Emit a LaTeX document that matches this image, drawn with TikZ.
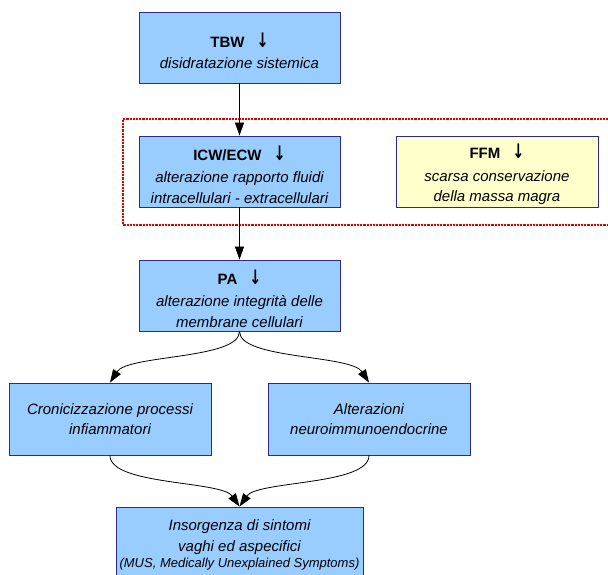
\documentclass[tikz,border=0pt]{standalone}
\usepackage{fontspec}
\setmainfont{Liberation Sans}
\newfontfamily\arrfont{DejaVu Sans}
\usetikzlibrary{arrows.meta}
\definecolor{boxblue}{HTML}{99CCFF}
\definecolor{boxborder}{HTML}{2A2A8E}
\definecolor{boxyellow}{HTML}{FFFFCC}
\definecolor{dotred}{HTML}{E00000}
\newcommand{\darr}{\smash{\scalebox{0.72}[1.0]{\fontsize{20}{20}\selectfont\arrfont\bfseries ↓}}}
\newcommand{\tstrut}{\rule{0pt}{21pt}}
\begin{document}
\begin{tikzpicture}[x=1pt,y=-1pt,
  box/.style={draw=boxborder, fill=boxblue, line width=0.9pt, minimum width=201pt,
    minimum height=71pt, align=center, inner sep=0pt, font=\fontsize{15}{20.5}\selectfont},
  ybox/.style={box, fill=boxyellow},
  txt/.style={align=center, inner sep=0pt, font=\fontsize{15}{20.5}\selectfont},
  arr/.style={line width=0.8pt, -{Triangle[length=13pt,width=9pt]}},
  frame/.style={draw=dotred, line width=1.6pt, dash pattern=on 2.2pt off 1pt}]
\useasboundingbox (0,0) rectangle (608,574);
\fill[white] (0,0) rectangle (608,574);
\begin{scope}
\clip (0,0) rectangle (608,574);
% dotted frame (open on the right)
\draw[frame] (615,119) -- (123,119) -- (123,225) -- (615,225);
% boxes
\node[box] (tbw) at (239.5,47.5) {\tstrut{\bfseries TBW\hspace{12pt}\darr}\\[1pt]{\itshape disidratazione sistemica}};
\node[box] (icw) at (239.5,171.5) {\tstrut{\bfseries ICW/ECW\hspace{12pt}\darr}\\[2pt]{\itshape alterazione rapporto fluidi}\\{\itshape intracellulari - extracellulari}};
\node[ybox, minimum width=202pt] (ffm) at (497,171.5) {\tstrut{\bfseries FFM\hspace{12pt}\darr}\\[2pt]{\itshape scarsa conservazione}\\{\itshape della massa magra}};
\node[box] (pa) at (239.5,295.5) {\tstrut{\bfseries PA\hspace{12pt}\darr}\\[2pt]{\itshape alterazione integrità delle}\\{\itshape membrane cellulari}};
\node[box, minimum width=202pt, minimum height=72pt] (cro) at (110,419) {{\itshape Cronicizzazione processi}\\{\itshape infiammatori}};
\node[box, minimum width=202pt, minimum height=72pt] (neu) at (369,419) {{\itshape Alterazioni}\\{\itshape neuroimmunoendocrine}};
\node[box, minimum width=247pt, minimum height=93pt] (mus) at (239.5,553.5) {};
\node[txt] (mustxt) at (239.5,545) {{\itshape Insorgenza di sintomi}\\{\itshape vaghi ed aspecifici}\\[-4pt]{\fontsize{13}{14}\selectfont\itshape (MUS, Medically Unexplained Symptoms)}};
% connectors
\draw[arr] (tbw) -- (icw);
\draw[arr] (icw) -- (pa);
\draw[arr] (pa.south) .. controls +(0,28) and +(18,-28) .. (cro.north);
\draw[arr] (pa.south) .. controls +(0,28) and +(-18,-28) .. (neu.north);
\draw[arr] (cro.south) .. controls +(0,30) and +(-18,-26) .. (mus.north);
\draw[arr] (neu.south) .. controls +(0,30) and +(18,-26) .. (mus.north);
\end{scope}
\end{tikzpicture}
\end{document}
